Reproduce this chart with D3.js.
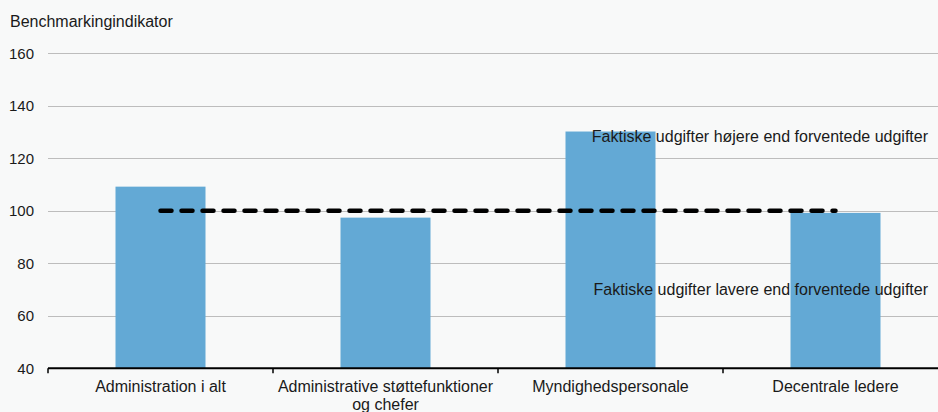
<!DOCTYPE html>
<html lang="da">
<head>
<meta charset="utf-8">
<title>Benchmarkingindikator</title>
<style>
  body { margin: 0; background-color: #f8f9f9; }
  svg { display: block; background-color: #f8f9f9; font-family: "Liberation Sans", Arial, Helvetica, sans-serif; }
  .grid line { stroke: #bdbdbd; stroke-width: 1px; shape-rendering: crispEdges; }
  .bar { fill: #63a9d5; }
  .ref { fill: none; stroke: #000; stroke-width: 4.5px; stroke-dasharray: 11 10; stroke-linecap: round; }
  .note { font-size: 16px; fill: #1a1a1a; }
</style>
</head>
<body>
<script src="https://cdn.jsdelivr.net/npm/d3@7"></script>
<script>

var categories = ["Administration i alt", "Administrative støttefunktioner\nog chefer", "Myndighedspersonale", "Decentrale ledere"];
var values = [109.2, 97.4, 130.2, 99.2];
var refValue = 100;
var yTicks = [40, 60, 80, 100, 120, 140, 160];
var yTitle = "Benchmarkingindikator";
var notes = [
  { text: "Faktiske udgifter højere end forventede udgifter", value: 128.2 },
  { text: "Faktiske udgifter lavere end forventede udgifter", value: 69.9 }
];

var fullwidth = 938;
var fullheight = 412;
var plotLeft = 48, plotTop = 53.3, plotBottom = 368.3;

var svg = d3.select("body").append("svg")
  .attr("width", fullwidth)
  .attr("height", fullheight);

var xScale = d3.scaleBand()
  .domain(categories)
  .range([plotLeft, plotLeft + 900])
  .paddingInner(0.6)
  .paddingOuter(0.3);

var yScale = d3.scaleLinear()
  .domain([40, 160])
  .range([plotBottom, plotTop]);

// gridlines
svg.append("g").attr("class", "grid")
  .selectAll("line")
  .data(yTicks.filter(function(d) { return d > 40; }))
  .enter().append("line")
  .attr("x1", plotLeft)
  .attr("x2", fullwidth)
  .attr("y1", function(d) { return Math.round(yScale(d)) + 0.5; })
  .attr("y2", function(d) { return Math.round(yScale(d)) + 0.5; });

// y tick labels
var yAxis = d3.axisLeft(yScale).tickValues(yTicks).tickSize(0).tickPadding(14);
svg.append("g")
  .attr("transform", "translate(" + plotLeft + ",0)")
  .call(yAxis)
  .call(function(g) { g.select(".domain").remove(); })
  .selectAll("text")
  .attr("fill", "#1a1a1a")
  .style("font-family", "'Liberation Sans', Arial, sans-serif")
  .style("font-size", "15px");

svg.append("text")
  .attr("x", 10)
  .attr("y", 27)
  .style("font-size", "16px")
  .attr("fill", "#1a1a1a")
  .text(yTitle);

// bars
svg.selectAll("rect.bar")
  .data(values)
  .enter().append("rect")
  .attr("class", "bar")
  .attr("x", function(d, i) { return xScale(categories[i]); })
  .attr("width", xScale.bandwidth())
  .attr("y", function(d) { return yScale(d); })
  .attr("height", function(d) { return yScale(40) - yScale(d); });

// x axis line and ticks at band edges
svg.append("line")
  .attr("x1", plotLeft).attr("x2", fullwidth)
  .attr("y1", plotBottom).attr("y2", plotBottom)
  .attr("stroke", "#000").attr("stroke-width", 2);

var edges = categories.map(function(c) { return xScale(c) - xScale.step() * xScale.paddingOuter(); });
svg.selectAll("line.xtick")
  .data(edges)
  .enter().append("line")
  .attr("class", "xtick")
  .attr("x1", function(d) { return d; }).attr("x2", function(d) { return d; })
  .attr("y1", plotBottom).attr("y2", plotBottom + 5)
  .attr("stroke", "#000").attr("stroke-width", 1.5);

// category labels
var labels = svg.selectAll("text.xlabel")
  .data(categories)
  .enter().append("text")
  .attr("class", "xlabel")
  .attr("text-anchor", "middle")
  .style("font-size", "16px")
  .attr("fill", "#1a1a1a");

labels.each(function(c) {
  var t = d3.select(this);
  c.split("\n").forEach(function(line, i) {
    t.append("tspan")
      .attr("x", xScale(c) + xScale.bandwidth() / 2)
      .attr("y", plotBottom + 24 + i * 18)
      .text(line);
  });
});

// reference line at 100
var first = categories[0], last = categories[categories.length - 1];
svg.append("line")
  .attr("class", "ref")
  .attr("x1", xScale(first) + xScale.bandwidth() / 2)
  .attr("x2", xScale(last) + xScale.bandwidth() / 2)
  .attr("y1", yScale(refValue))
  .attr("y2", yScale(refValue));

// notes
svg.selectAll("text.note")
  .data(notes)
  .enter().append("text")
  .attr("class", "note")
  .attr("x", 928)
  .attr("text-anchor", "end")
  .attr("y", function(d) { return yScale(d.value) + 5; })
  .text(function(d) { return d.text; });

</script>
</body>
</html>
